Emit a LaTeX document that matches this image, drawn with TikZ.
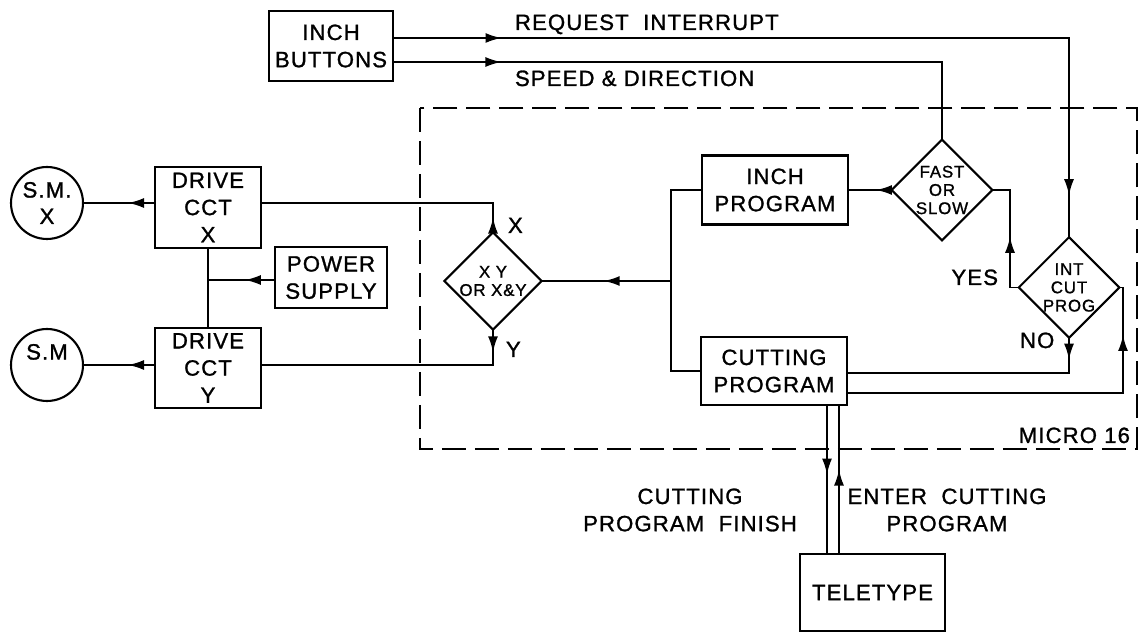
\documentclass[tikz,border=0pt]{standalone}
\usepackage{fontspec}
\setmainfont{Liberation Sans}[LetterSpace=5,FakeBold=1.2]
\usetikzlibrary{arrows.meta,decorations.markings,shapes.geometric}
\begin{document}
\begin{tikzpicture}[x=0.02cm,y=-0.02cm, line width=1.1pt,
  every node/.style={outer sep=0pt},
  box/.style={draw, line width=1.2pt, inner sep=0pt, align=center, font=\fontsize{12.6}{15.5}\selectfont},
  dia/.style={draw, diamond, aspect=1, line width=1.2pt, inner sep=0pt, align=center, font=\fontsize{9.6}{10.4}\selectfont},
  motor/.style={draw, circle, line width=1.2pt, inner sep=0pt, minimum size=1.44cm, align=center, font=\fontsize{12.6}{15}\selectfont},
  lbl/.style={inner sep=0pt, font=\fontsize{12.6}{15.5}\selectfont},
  micro/.style={dash pattern=on 0.48cm off 0.18cm, line width=1.3pt},
  arr at/.style={postaction={decorate,decoration={markings,mark=at position #1 with {\arrow{Latex[length=3.2mm,width=2mm]}}}}}
]
\useasboundingbox (0,0) rectangle (1139,634);

% dashed MICRO 16 boundary
\draw[micro] (420,108) rectangle (1137,449);
\node[lbl, anchor=base east] (m16) at (1130,443) {MICRO 16};

% nodes
\node[box, minimum width=2.48cm, minimum height=1.40cm] (ib) at (331,46) {INCH\\BUTTONS};
\node[box, minimum width=2.12cm, minimum height=1.62cm] (dx) at (208,207.5) {DRIVE\\CCT\\X};
\node[box, minimum width=2.12cm, minimum height=1.60cm] (dy) at (208,368) {DRIVE\\CCT\\Y};
\node[box, minimum width=2.24cm, minimum height=1.22cm] (ps) at (331,277.5) {POWER\\SUPPLY};
\node[box, minimum width=2.92cm, minimum height=1.38cm] (ip) at (775,190) {INCH\\PROGRAM};
\node[box, minimum width=2.92cm, minimum height=1.36cm] (cp) at (774,371) {CUTTING\\PROGRAM};
\node[box, minimum width=2.90cm, minimum height=1.54cm] (tt) at (872.5,592.5) {TELETYPE};
\node[motor] (smx) at (47,203) {S.M.\\X};
\node[motor] (smy) at (47,365) {S.M\\\phantom{X}};
\node[dia, minimum width=1.86cm, minimum height=1.84cm] (xy) at (493,281) {X Y\\OR X\&Y};
\node[dia, minimum width=1.94cm, minimum height=1.94cm] (fos) at (942,190) {FAST\\OR\\SLOW};
\node[dia, minimum width=1.88cm, minimum height=1.90cm] (icp) at (1069,287.5) {INT\\CUT\\PROG};

% labels
\node[lbl, anchor=base west] (rqt) at (515,30) {REQUEST\ \ INTERRUPT};
\node[lbl, anchor=base west] (spt) at (515,86) {SPEED \& DIRECTION};
\node[lbl, anchor=base east] (yes) at (998,285) {YES};
\node[lbl, anchor=base west] (no) at (1020,348) {NO};
\node[lbl, anchor=base west] (xl) at (508,233) {X};
\node[lbl, anchor=base west] (yl) at (506,357) {Y};
\node[lbl, align=center] (cpf) at (690,510) {CUTTING\\PROGRAM\ \ FINISH};
\node[lbl, align=center] (ecp) at (947,510) {ENTER\ \ CUTTING\\PROGRAM};

% helper coordinates
\coordinate (rqc) at (1069,38);
\coordinate (spc) at (942,62);
\coordinate (yesc) at (1010,287.5);
\coordinate (yest) at (1010,190);
\coordinate (noc) at (1069,373);
\coordinate (rc1) at (1123,393);
\coordinate (rc2) at (1123,287.5);
\coordinate (jt) at (671,190);
\coordinate (jb) at (671,371);
\coordinate (jm) at (671,281);
\coordinate (xc) at (493,203);
\coordinate (yc) at (493,365);
\coordinate (psj) at (208,280);
\coordinate (t1) at (827,0);
\coordinate (t2) at (839,0);

% connectors
\draw[arr at=0.124, arr at=0.952] (ib.east |- rqc) -- (rqc) -- (icp.north);
\draw[arr at=0.173] (ib.east |- spc) -- (spc) -- (fos.north);
\draw[arr at=0.36] (fos.west) -- (ip.east);
\draw[arr at=0.48] (icp.west) -- (yesc) -- (yest) -- (fos.east);
\draw[arr at=0.085] (icp.south) -- (noc) -- (cp.east |- noc);
\draw[arr at=0.867] (cp.east |- rc1) -- (rc1) -- (rc2) -- (icp.east);
\draw (ip.west) -- (jt) -- (jb) -- (cp.west);
\draw[arr at=0.52] (jm) -- (xy.east);
\draw[arr at=0.057] (xy.north) -- (xc) -- (dx.east |- xc);
\draw[arr at=0.085] (xy.south) -- (yc) -- (dy.east |- yc);
\draw[arr at=0.375] (dx.west |- smx) -- (smx.east);
\draw[arr at=0.375] (dy.west |- smy) -- (smy.east);
\draw (dx.south) -- (dy.north);
\draw[arr at=0.45] (ps.west |- psj) -- (psj);
\draw[arr at=0.467] (t1 |- cp.south) -- (t1 |- tt.north);
\draw[arr at=0.567] (t2 |- tt.north) -- (t2 |- cp.south);
\end{tikzpicture}
\end{document}
